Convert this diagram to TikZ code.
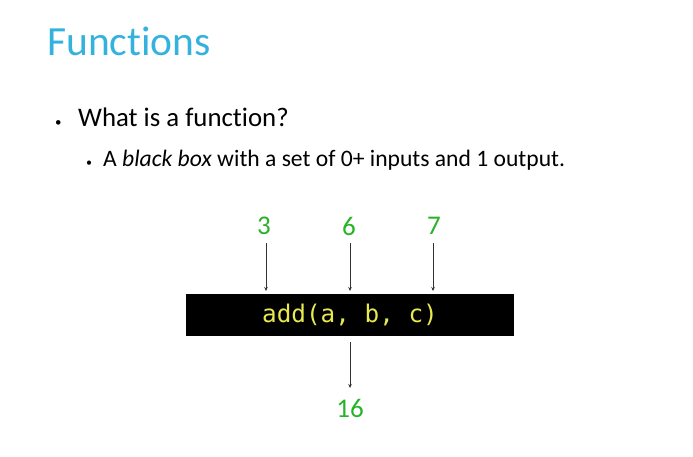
\documentclass[tikz,border=0pt]{standalone}
\usepackage{fontspec}
\setmainfont{Carlito}[Ligatures={NoCommon,TeX}]
\newfontfamily\codefont{DejaVu Sans Mono}
\usetikzlibrary{arrows.meta}
\definecolor{titleblue}{RGB}{52,178,222}
\definecolor{valgreen}{RGB}{40,178,40}
\definecolor{codeyellow}{RGB}{232,232,80}
\begin{document}
\begin{tikzpicture}[x=1pt,y=-1pt,
  value/.style={text=valgreen,font=\fontsize{27}{27}\selectfont,inner sep=0pt},
  flow/.style={draw=black!80,line width=0.6pt,-{Stealth[length=4pt,width=3.5pt]}}]
  \useasboundingbox (0,0) rectangle (693,456);
  % slide title
  \node[anchor=base west,inner sep=0pt,text=titleblue,font=\fontsize{41.5}{41.5}\selectfont] (title) at (47,55) {Functions};
  % bullet points
  \node[anchor=base west,inner sep=0pt,font=\fontsize{13}{13}\selectfont] (b1) at (55,126) {•};
  \node[anchor=base west,inner sep=0pt,font=\fontsize{26.8}{26.8}\selectfont] (t1) at (78,126) {What is a function?};
  \node[anchor=base west,inner sep=0pt,font=\fontsize{12}{12}\selectfont] (b2) at (86,166) {•};
  \node[anchor=base west,inner sep=0pt,font=\fontsize{23.6}{23.6}\selectfont] (t2) at (103,166) {A \textit{black box} with a set of 0+ inputs and 1 output.};
  % the function box
  \node[fill=black,minimum width=328pt,minimum height=42pt,inner sep=0pt,
        text=codeyellow,font=\codefont\fontsize{24.3}{24.3}\selectfont] (fn) at (350,315) {add(a, b, c)};
  % inputs
  \node[value] (in1) at (264,226) {3};
  \node[value] (in2) at (349,226) {6};
  \node[value] (in3) at (434,226) {7};
  \coordinate (a1) at (266,243);
  \coordinate (a2) at (350,243);
  \coordinate (a3) at (433,243);
  \coordinate (e1) at (266,291);
  \coordinate (e2) at (350,291);
  \coordinate (e3) at (433,291);
  \draw[flow] (a1) -- (e1);
  \draw[flow] (a2) -- (e2);
  \draw[flow] (a3) -- (e3);
  % output
  \node[value] (out) at (350,408) {16};
  \coordinate (o1) at (350,342);
  \coordinate (o2) at (350,388);
  \draw[flow] (o1) -- (o2);
\end{tikzpicture}
\end{document}
